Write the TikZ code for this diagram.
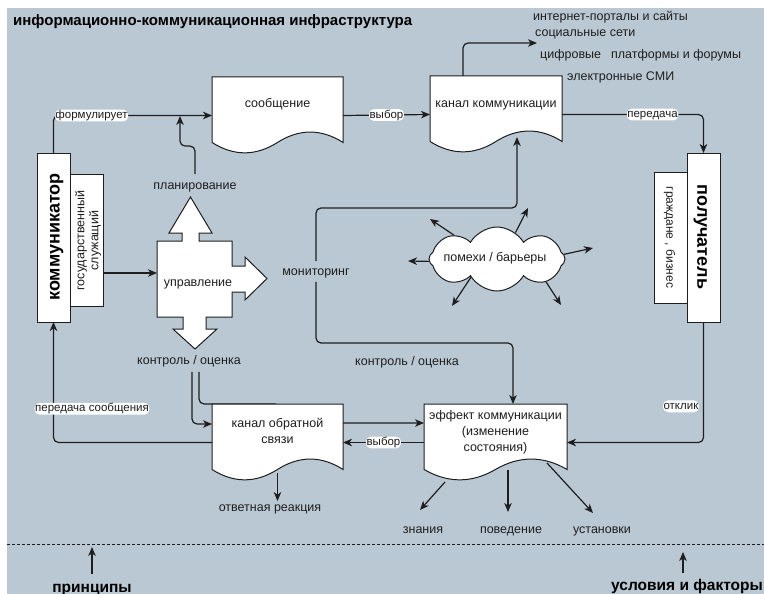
\documentclass[tikz,border=0pt]{standalone}
\usepackage{fontspec}
\setmainfont{Liberation Sans}
\usetikzlibrary{arrows.meta,shapes.symbols,calc}
\definecolor{bgc}{HTML}{BAC8D3}
\definecolor{ink}{HTML}{1E1E1E}

\tikzset{
  edge/.style={draw=ink, line width=1.2pt, rounded corners=5pt},
  arr/.style={edge, -{Stealth[length=9pt,width=7.5pt,inset=2.6pt]}},
  shp/.style={draw=ink, line width=1pt, fill=white, line join=miter},
  box/.style={shp, rectangle, inner sep=0pt, outer sep=0pt},
  ghost/.style={rectangle, inner sep=0pt, outer sep=0pt, draw=none},
  tx/.style={text=ink, font=\fontsize{12.5}{15}\selectfont, inner sep=1pt, text height=9pt, text depth=2.5pt},
  txm/.style={text=ink, font=\fontsize{12.5}{16}\selectfont, inner sep=1pt},
  lbl/.style={text=ink, fill=white, font=\fontsize{11.5}{14}\selectfont, inner sep=0.6pt, text height=8.3pt, text depth=2.3pt},
  boldtx/.style={text=black, font=\bfseries\fontsize{15.5}{18}\selectfont, inner sep=0pt},
}

% document shape: name, x0, y0, w, h (pixel coordinates, y downwards)
\newcommand\docshape[5]{%
  \draw[shp] (#2,#3) -- ({#2+#4},#3) -- ({#2+#4},{#3+0.85*#5})
    .. controls ({#2+0.8333*#4},{#3+0.67*#5}) and ({#2+0.6667*#4},{#3+0.67*#5}) .. ({#2+0.5*#4},{#3+0.85*#5})
    .. controls ({#2+0.3333*#4},{#3+1.03*#5}) and ({#2+0.1667*#4},{#3+1.03*#5}) .. (#2,{#3+0.85*#5}) -- cycle;
  \node[ghost, minimum width=#4, minimum height=#5] (#1) at ({#2+0.5*#4},{#3+0.5*#5}) {};
}

\begin{document}
\begin{tikzpicture}[x=1pt,y=-1pt]
\useasboundingbox (0,0) rectangle (764,594);
\fill[white] (0,0) rectangle (764,594);
\fill[bgc] (7,8) rectangle (764,594);

% title
\node[boldtx, anchor=base west, font=\bfseries\fontsize{15}{18}\selectfont] (title) at (13,26) {информационно-коммуникационная инфраструктура};

% hidden edge first (runs behind the feedback channel)
\node[tx] (ko1) at (189,361) {контроль / оценка};
\node[ghost, minimum width=143, minimum height=77] (effpre) at (495.5,442.5) {};
\coordinate (effin) at ([yshift=19.5pt]effpre.west);
\draw[arr] ([xshift=10pt,yshift=-4pt]ko1.south) |- (280,404) |- (effin);

% communicator
\node[box, minimum width=33, minimum height=132] (gs) at (86.5,240) {};
\node[box, minimum width=33, minimum height=169] (com) at (53.5,237.5) {};
\node[rotate=90, text=black, font=\bfseries\fontsize{18}{21}\selectfont, inner sep=0pt, text height=13pt, text depth=3.6pt] (comt) at (55,237) {коммуникатор};
\node[rotate=90, txm, align=center, font=\fontsize{12.5}{14}\selectfont] (gst) at (88,240.5) {государственный\\служащий};

% recipient
\node[box, minimum width=33, minimum height=131] (cit) at (670.5,237.5) {};
\node[box, minimum width=33, minimum height=169] (rec) at (703.5,237.5) {};
\node[rotate=-90, text=black, font=\bfseries\fontsize{18}{21}\selectfont, inner sep=0pt, text height=13pt, text depth=3.6pt] (rect) at (702,237) {получатель};
\node[rotate=-90, tx, font=\fontsize{12}{14}\selectfont] (citt) at (669.5,237.5) {граждане , бизнес};

% documents
\docshape{msg}{212}{77}{131}{77}
\node[tx] (msgt) at (277.5,104) {сообщение};
\docshape{kk}{430}{76}{132}{77}
\node[tx] (kkt) at (496,104) {канал коммуникации};
\docshape{fb}{212}{404}{131}{77}
\node[txm, align=center] (fbt) at (277.5,431) {канал обратной\\связи};
\docshape{eff}{424}{404}{143}{77}
\node[txm, align=center] (efft) at (495.5,432) {эффект коммуникации\\(изменение\\состояния)};

% management cross
\draw[shp] (157,241) -- (182,241) -- (182,233) -- (169,233) -- (190.5,197) -- (212,233) -- (199,233) -- (199,241)
  -- (232,241) -- (232,266) -- (245,266) -- (245,257) -- (267,278.5) -- (245,300) -- (245,292) -- (232,292)
  -- (232,317) -- (206,317) -- (206,329) -- (217,329) -- (195,349) -- (173,329) -- (183,329) -- (183,317)
  -- (157,317) -- cycle;
\node[ghost, minimum width=75, minimum height=76] (uprb) at (194.5,279) {};
\node[tx] (upr) at (198,283) {управление};

% cloud
\node[cloud, cloud puffs=8, cloud puff arc=120, aspect=2.1, draw=ink, line width=1pt, fill=white,
      minimum width=136pt, minimum height=64pt, inner sep=0pt] (cl) at (497,259) {};
\node[tx] (clt) at (495,258) {помехи / барьеры};

% free labels
\node[tx] (plan) at (195,186) {планирование};
\node[tx] (mon) at (316,272) {мониторинг};
\node[tx] (ko2) at (407,362) {контроль / оценка};
\node[tx] (otv) at (270,508) {ответная реакция};
\node[tx] (zn) at (423,530) {знания};
\node[tx] (pov) at (511,530) {поведение};
\node[tx] (ust) at (602,530) {установки};
\node[tx, anchor=west] (l1) at (532,17) {интернет-порталы и сайты};
\node[tx, anchor=west] (l2) at (534,33) {социальные сети};
\node[tx, anchor=west] (l3) at (539,55) {цифровые\hspace{10pt}платформы и форумы};
\node[tx, anchor=west] (l4) at (566,77) {электронные СМИ};

% connectors
\draw[arr] (com.north) |- node[lbl, pos=0.62] (fl) {формулирует} (msg.west);
\coordinate (fline) at (180,116);
\draw[arr] ([yshift=5pt]plan.north) -- ++(0,-28) -| (fline);
\draw[arr] (msg.east) -- node[lbl] (v1) {выбор} (kk.west);
\coordinate (it) at (537,43);
\draw[arr] ([xshift=-33pt]kk.north) |- (it);
\draw[arr] (kk.east) -| node[lbl, pos=0.32] (per) {передача} (rec.north);
\draw[arr] (rec.south) |- node[lbl, pos=0.35, anchor=east, xshift=-4pt] (otk) {отклик} (eff.east);
\draw[arr] ([yshift=4pt]mon.north) |- (517,208) -- ([xshift=21pt,yshift=16pt]kk.south);
\draw[arr] ([yshift=-3pt]mon.south) |- (513,343) -- ([xshift=17.5pt]eff.north);
\coordinate (g1) at ([yshift=-33pt]gs.east);
\draw[arr] (g1) -- (g1 -| uprb.west);
\coordinate (fbin) at ([yshift=18.5pt]fb.west);
\draw[arr] ([xshift=3pt,yshift=-4pt]ko1.south) |- (fbin);
\draw[arr] (eff.west) -- node[lbl] (v2) {выбор} (fb.east);
\draw[arr] (fb.west) -| node[lbl, pos=0.64, xshift=38.5pt] (ps) {передача сообщения} (com.south);
\draw[arr] ([yshift=8pt]fb.south) -- (fb.south |- otv.north);

\coordinate (znE) at (420,510);
\coordinate (povE) at (508,512);
\coordinate (ustE) at (593,513);
\draw[arr] ([xshift=21pt,yshift=-1pt]eff.south west) -- (znE);
\draw[arr] ([xshift=12.5pt,yshift=11pt]eff.south) -- (povE);
\draw[arr] ([xshift=-20pt,yshift=18pt]eff.south east) -- (ustE);

% cloud arrows
\coordinate (c1) at (430,219);
\coordinate (c2) at (528,208);
\coordinate (c3) at (408,261);
\coordinate (c4) at (593,248);
\coordinate (c5) at (452,306);
\coordinate (c6) at (561,305);
\draw[arr] (cl.151) -- (c1);
\draw[arr] (cl.55) -- (c2);
\draw[arr] (cl.182) -- (c3);
\draw[arr] (cl.4) -- (c4);
\draw[arr] (cl.215) -- (c5);
\draw[arr] (cl.335) -- (c6);

% bottom
\draw[draw=ink, line width=0.9pt, dash pattern=on 3pt off 2pt] (7,544) -- (764,544);
\node[boldtx, anchor=base] (pr) at (92,592) {принципы};
\node[boldtx, anchor=base] (usl) at (687,590) {условия и факторы};
\coordinate (prT) at (92,547);
\coordinate (uslT) at (683,552);
\draw[arr] ([yshift=9pt]pr.north) -- (prT);
\draw[arr] ([xshift=-4pt,yshift=6pt]usl.north) -- (uslT);
\end{tikzpicture}
\end{document}
